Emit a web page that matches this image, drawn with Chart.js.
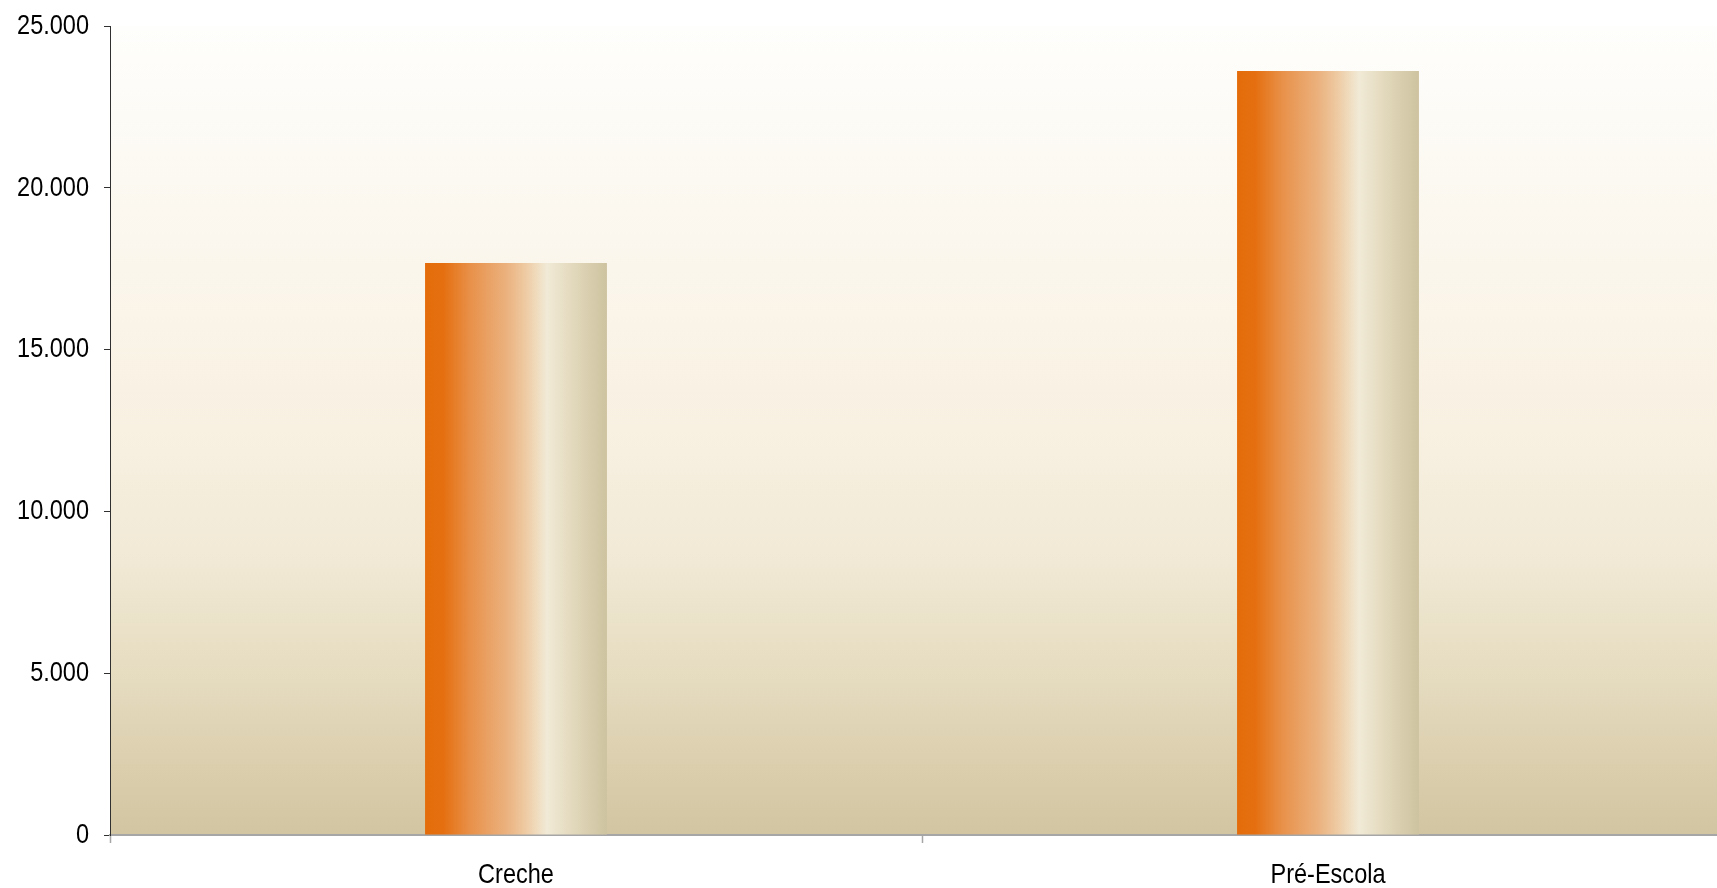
<!DOCTYPE html>
<html>
<head>
<meta charset="utf-8">
<script src="https://cdn.jsdelivr.net/npm/chart.js@4/dist/chart.umd.min.js"></script>
<style>
  html, body { margin: 0; padding: 0; background: #ffffff; overflow: hidden; }
  #wrap { width: 1740px; height: 888px; }
</style>
</head>
<body>
<div id="wrap"><canvas id="c" width="1740" height="888"></canvas></div>
<script>
const categories = ['Creche', 'Pré-Escola'];
const values = [17680, 23610];
const yTicks = [0, 5000, 10000, 15000, 20000, 25000];

const FONT = "'Liberation Sans', Arial, sans-serif";
const NARROW = 0.84;
const BAR_FRACTION = 0.224;

function fmt(v) {
  return String(v).replace(/\B(?=(\d{3})+(?!\d))/g, '.');
}

// condensed text rendering (Arial Narrow look)
const narrowText = {
  id: 'narrowText',
  beforeInit(chart) {
    const ctx = chart.ctx;
    const orig = ctx.fillText;
    ctx.fillText = function (t, x, y, mw) {
      this.save();
      this.translate(x, y);
      this.scale(NARROW, 1);
      if (mw === undefined) orig.call(this, t, 0, 0);
      else orig.call(this, t, 0, 0, mw / NARROW);
      this.restore();
    };
  }
};

const plotBg = {
  id: 'plotBg',
  beforeDraw(chart) {
    const { ctx, chartArea: a } = chart;
    if (!a) return;
    const g = ctx.createLinearGradient(0, a.top, 0, a.bottom);
    g.addColorStop(0, '#FEFEFC');
    g.addColorStop(0.3, '#FBF6EC');
    g.addColorStop(0.5, '#F8F0E1');
    g.addColorStop(0.65, '#F2EAD7');
    g.addColorStop(0.8, '#E6DCC0');
    g.addColorStop(0.9, '#DCD0B0');
    g.addColorStop(1, '#D2C5A1');
    ctx.save();
    ctx.fillStyle = g;
    ctx.fillRect(a.left, a.top, a.right - a.left, a.bottom - a.top);
    ctx.restore();
  }
};

function barGradient(context) {
  const chart = context.chart;
  const a = chart.chartArea;
  if (!a) return '#E46C0A';
  const xs = chart.scales.x;
  const c = xs.getPixelForValue(context.dataIndex);
  const w = (xs.width / categories.length) * BAR_FRACTION;
  const g = chart.ctx.createLinearGradient(c - w / 2, 0, c + w / 2, 0);
  g.addColorStop(0, '#E46C0A');
  g.addColorStop(0.1, '#E56F10');
  g.addColorStop(0.25, '#E8914A');
  g.addColorStop(0.45, '#EBB27F');
  g.addColorStop(0.55, '#EECAA2');
  g.addColorStop(0.67, '#F1EAD6');
  g.addColorStop(0.85, '#DED4B6');
  g.addColorStop(1, '#CEC3A0');
  return g;
}

new Chart(document.getElementById('c'), {
  type: 'bar',
  data: {
    labels: categories,
    datasets: [{
      data: values,
      backgroundColor: barGradient,
      borderWidth: 0,
      categoryPercentage: 1,
      barPercentage: BAR_FRACTION
    }]
  },
  options: {
    responsive: false,
    animation: false,
    layout: { padding: { left: 16, right: 6, top: 26, bottom: 0 } },
    plugins: { legend: { display: false }, tooltip: { enabled: false } },
    scales: {
      x: {
        offset: true,
        grid: {
          offset: true,
          drawOnChartArea: false,
          drawTicks: true,
          tickLength: 8,
          tickColor: '#A6A6A6',
          tickWidth: 1.5
        },
        border: { display: true, color: '#A6A6A6', width: 2 },
        ticks: {
          color: '#000000',
          padding: 15,
          font: { family: FONT, size: 28 }
        },
        afterFit(s) { s.height = 53; s.paddingLeft = 0; s.paddingRight = 0; }
      },
      y: {
        min: 0,
        max: 25000,
        afterBuildTicks(s) { s.ticks = yTicks.map(v => ({ value: v })); },
        grid: {
          drawOnChartArea: false,
          drawTicks: true,
          tickLength: 6,
          tickColor: '#303030',
          tickWidth: 1
        },
        border: { display: true, color: '#303030', width: 1 },
        ticks: {
          color: '#000000',
          padding: 15,
          font: { family: FONT, size: 28 },
          callback: (v) => fmt(v)
        },
        afterFit(s) { s.width = 94; s.paddingTop = 0; s.paddingBottom = 0; }
      }
    }
  },
  plugins: [narrowText, plotBg]
});
</script>
</body>
</html>
